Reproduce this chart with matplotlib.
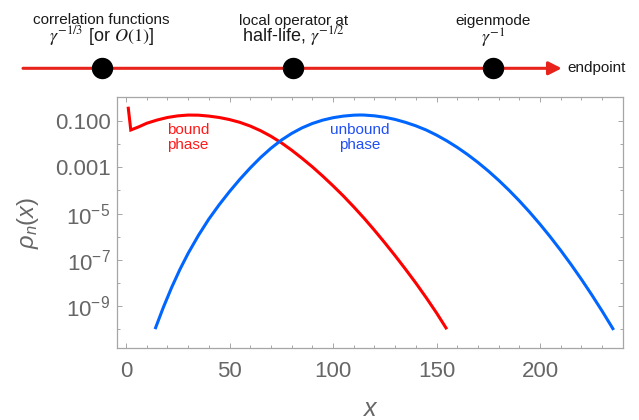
import numpy as np
import matplotlib
matplotlib.use("Agg")
import matplotlib.pyplot as plt
from matplotlib.ticker import FixedLocator, FixedFormatter

plt.rcParams["font.family"] = ["Liberation Sans", "DejaVu Sans"]
plt.rcParams["mathtext.fontset"] = "custom"
plt.rcParams["mathtext.rm"] = "Liberation Sans"
plt.rcParams["mathtext.it"] = "Liberation Sans:italic"
plt.rcParams["mathtext.bf"] = "Liberation Sans:bold"

# timeline events (0 = start of arrow, 1 = endpoint)
event_pos = [0.146, 0.502, 0.873]
event_row1 = ["correlation functions", "local operator at", "eigenmode"]
event_row2 = [r"$\gamma^{-1/3}$ [or $O(1)$]", r"half-life, $\gamma^{-1/2}$", r"$\gamma^{-1}$"]

# bound phase curve, log10 rho_n(x)
red_x = [1.1, 2.3, 6, 10, 15, 20, 25, 30, 35, 40, 45, 50, 55, 60, 65, 70, 75,
         80, 85, 90, 95, 100, 105, 110, 115, 120, 125, 130, 135, 140, 145, 150, 154.6]
red_log = [-0.45, -1.39, -1.26, -1.10, -0.96, -0.85, -0.78, -0.745, -0.75, -0.79,
           -0.85, -0.94, -1.06, -1.22, -1.42, -1.66, -1.94, -2.26, -2.61, -2.98,
           -3.38, -3.80, -4.24, -4.71, -5.20, -5.72, -6.26, -6.82, -7.40, -8.0,
           -8.63, -9.29, -9.94]

# unbound phase curve
blue_x = [14.3, 18, 22, 26, 30, 35, 40, 45, 50, 55, 60, 65, 70, 75, 80, 85, 90, 95,
          100, 105, 110, 113, 115, 120, 125, 130, 135, 140, 145, 150, 155, 160, 165,
          170, 175, 180, 185, 190, 195, 200, 205, 210, 215, 220, 225, 230, 235.2]
blue_log = [-9.93, -9.06, -8.2, -7.42, -6.72, -5.94, -5.24, -4.62, -4.05, -3.52,
            -3.03, -2.58, -2.18, -1.83, -1.54, -1.30, -1.11, -0.965, -0.86, -0.79,
            -0.75, -0.742, -0.745, -0.778, -0.84, -0.934, -1.06, -1.21, -1.39, -1.61,
            -1.86, -2.14, -2.45, -2.79, -3.16, -3.56, -3.99, -4.45, -4.94, -5.46,
            -6.01, -6.59, -7.2, -7.84, -8.51, -9.21, -9.97]

ytick_vals = [1e-1, 1e-3, 1e-5, 1e-7, 1e-9]
ytick_labels = ["0.100", "0.001", r"$\mathregular{10^{-5}}$", r"$\mathregular{10^{-7}}$",
                r"$\mathregular{10^{-9}}$"]
yminor_vals = [1e-2, 1e-4, 1e-6, 1e-8, 1e-10]

RED = "#ff0000"
LINE_RED = "#e8231b"
BLUE = "#0066ff"
GRAY = "#666666"
FRAME = "#a6a6a6"

fig = plt.figure(figsize=(6.39, 4.20), dpi=100)

# ---- timeline ----
tl = fig.add_axes([0, 330 / 420, 1, 90 / 420])
tl.set_xlim(-0.0427, 1.1435)
tl.set_ylim(90, 0)
tl.axis("off")
line_y = 68.3
tl.annotate("", xy=(1.0, line_y), xytext=(0.0, line_y),
            arrowprops=dict(arrowstyle="-|>,head_length=0.65,head_width=0.33",
                            color=LINE_RED, lw=2.2, shrinkA=0, shrinkB=0,
                            mutation_scale=12))
tl.plot(event_pos, [line_y] * len(event_pos), "o", color="black", ms=14.4, zorder=5)
tl.annotate("endpoint", xy=(1.0, line_y), xytext=(4, 0), textcoords="offset points",
            ha="left", va="center", fontsize=11, color="#1a1a1a")
for i, p in enumerate(event_pos):
    tl.text(p, 24.5, event_row1[i], ha="center", va="baseline", fontsize=11,
            color="#1a1a1a")
    tl.text(p, 41.5 if i < 2 else 44, event_row2[i], ha="center", va="baseline",
            fontsize=13, color="#1a1a1a", math_fontfamily="stix")

# ---- main plot ----
ax = fig.add_axes([116.7 / 639, (420 - 348.3) / 420, (623 - 116.7) / 639, (348.3 - 97) / 420])
ax.plot(red_x, 10.0 ** np.array(red_log), color=RED, lw=2.2, solid_joinstyle="miter")
ax.plot(blue_x, 10.0 ** np.array(blue_log), color=BLUE, lw=2.2)
ax.set_yscale("log")
ax.set_xlim(-4.5, 240.1)
ax.set_ylim(10 ** -10.82, 10 ** 0.035)

ax.yaxis.set_major_locator(FixedLocator(ytick_vals))
ax.yaxis.set_major_formatter(FixedFormatter(ytick_labels))
ax.yaxis.set_minor_locator(FixedLocator(yminor_vals))
ax.yaxis.set_minor_formatter(FixedFormatter([""] * len(yminor_vals)))
ax.set_xticks([0, 50, 100, 150, 200])
ax.set_xticks(np.arange(0, 241, 10), minor=True)

for s in ax.spines.values():
    s.set_color(FRAME)
    s.set_linewidth(0.9)
ax.tick_params(which="both", direction="in", top=True, right=True, color=FRAME,
               width=0.7, labelcolor=GRAY, labelsize=16)
ax.tick_params(which="major", length=3.6)
ax.tick_params(which="minor", length=2.2)
ax.tick_params(axis="x", pad=9)
ax.tick_params(axis="y", pad=4.5)

ax.text(30, 10 ** -1.71, "bound\nphase", color="#ff1a1a", fontsize=11,
        ha="center", va="center", linespacing=1.15)
ax.text(113, 10 ** -1.71, "unbound\nphase", color="#1f4ff5", fontsize=11,
        ha="center", va="center", linespacing=1.15)

ax.set_xlabel(r"$x$", fontsize=18, color=GRAY)
ax.xaxis.label.set_va("center")
ax.xaxis.set_label_coords(0.5, -0.24)
ax.set_ylabel(r"$\rho_n(x)$", fontsize=17, color=GRAY)
ax.yaxis.label.set_va("center")
ax.yaxis.set_label_coords(-0.175, 0.5)

fig.savefig("out.png", dpi=100)
